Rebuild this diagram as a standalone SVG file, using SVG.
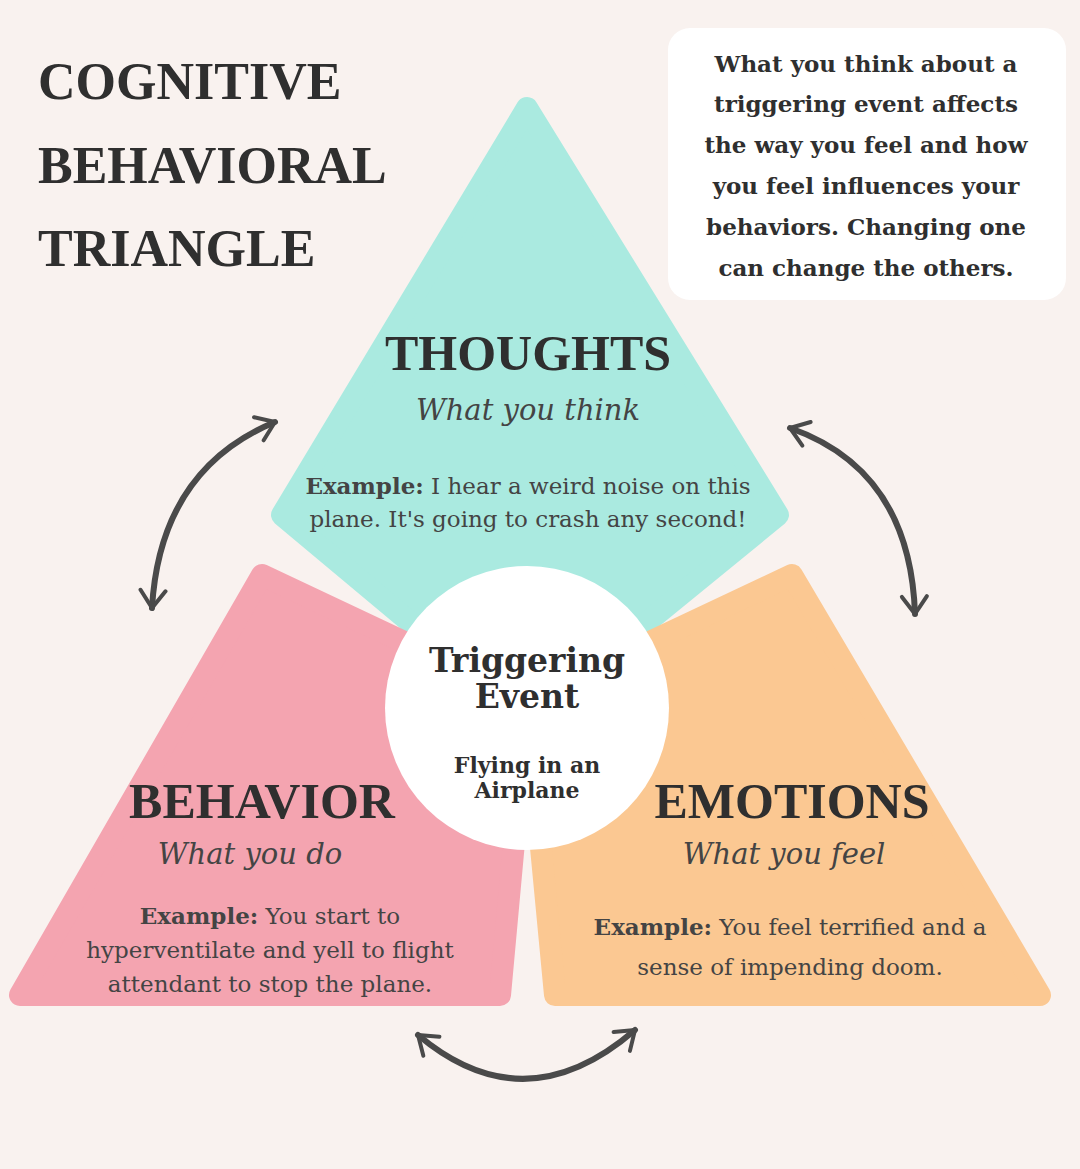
<svg xmlns="http://www.w3.org/2000/svg" width="1080" height="1169" viewBox="0 0 1080 1169">
<style>
.s{font-family:"Liberation Serif",serif;fill:#2f2f2f}
.d{font-family:"DejaVu Serif",serif;fill:#2f2f2f}
.b{font-weight:bold}
.h{font-size:50px;font-weight:bold;text-anchor:middle}
.i{font-size:29px;font-style:italic;text-anchor:middle;fill:#444}
.e{font-size:23px;text-anchor:middle;fill:#444}
.arr{fill:none;stroke:#4a4a4a;stroke-width:6;stroke-linecap:round;stroke-linejoin:round}
</style>
<defs>
<marker id="ah" viewBox="0 0 12 12" refX="9" refY="6" markerWidth="5" markerHeight="5" orient="auto-start-reverse" markerUnits="strokeWidth">
<path d="M2,1 L9,6 L2,11" fill="none" stroke="#4a4a4a" stroke-width="1.6" stroke-linecap="round" stroke-linejoin="round"/>
</marker>
</defs>
<rect width="1080" height="1169" fill="#f9f2ef"/>
<g id="title" class="s b" font-size="52">
<text x="38" y="99">COGNITIVE</text>
<text x="38" y="183">BEHAVIORAL</text>
<text x="38" y="266">TRIANGLE</text>
</g>
<g id="note">
<rect x="668" y="28" width="398" height="272" rx="22" fill="#ffffff"/>
<g class="d b" font-size="23" text-anchor="middle">
<text x="866" y="72">What you think about a</text>
<text x="866" y="112">triggering event affects</text>
<text x="866" y="153">the way you feel and how</text>
<text x="866" y="194">you feel influences your</text>
<text x="866" y="235">behaviors. Changing one</text>
<text x="866" y="276">can change the others.</text>
</g>
</g>
<g id="thoughts">
<polygon points="527,108 778,515 527,720 282,515" fill="#aaeae0" stroke="#aaeae0" stroke-width="22" stroke-linejoin="round"/>
<text class="s h" x="528" y="370">THOUGHTS</text>
<text class="d i" x="528" y="420">What you think</text>
<text class="d e" x="528" y="494"><tspan font-weight="bold">Example:</tspan> I hear a weird noise on this</text>
<text class="d e" x="528" y="527">plane. It's going to crash any second!</text>
</g>
<g id="behavior">
<polygon points="262,575 20,995 500,995 527,700" fill="#f4a4b0" stroke="#f4a4b0" stroke-width="22" stroke-linejoin="round"/>
<text class="s h" x="262" y="818">BEHAVIOR</text>
<text class="d i" x="250" y="864">What you do</text>
<text class="d e" x="270" y="924"><tspan font-weight="bold">Example:</tspan> You start to</text>
<text class="d e" x="270" y="958">hyperventilate and yell to flight</text>
<text class="d e" x="270" y="992">attendant to stop the plane.</text>
</g>
<g id="emotions">
<polygon points="792,575 1040,995 555,995 527,700" fill="#fbc892" stroke="#fbc892" stroke-width="22" stroke-linejoin="round"/>
<text class="s h" x="792" y="818">EMOTIONS</text>
<text class="d i" x="784" y="864">What you feel</text>
<text class="d e" x="790" y="935"><tspan font-weight="bold">Example:</tspan> You feel terrified and a</text>
<text class="d e" x="790" y="975">sense of impending doom.</text>
</g>
<g id="trigger">
<circle cx="527" cy="708" r="142" fill="#ffffff"/>
<text class="d b" x="527" y="672" font-size="33" text-anchor="middle">Triggering</text>
<text class="d b" x="527" y="708" font-size="33" text-anchor="middle">Event</text>
<text class="d b" x="527" y="773" font-size="22" text-anchor="middle" fill="#444">Flying in an</text>
<text class="d b" x="527" y="798" font-size="22" text-anchor="middle" fill="#444">Airplane</text>
</g>
<g id="connectors">
<path class="arr" d="M275,422 Q160,470 152,608" marker-start="url(#ah)" marker-end="url(#ah)"/>
<path class="arr" d="M790,428 Q910,470 915,614" marker-start="url(#ah)" marker-end="url(#ah)"/>
<path class="arr" d="M418,1035 Q525,1125 635,1030" marker-start="url(#ah)" marker-end="url(#ah)"/>
</g>
</svg>
